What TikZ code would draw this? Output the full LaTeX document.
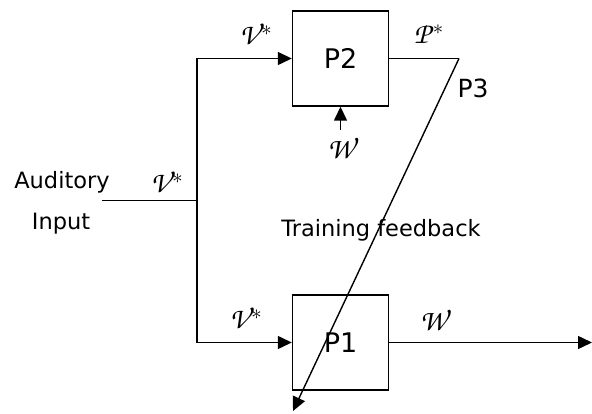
\documentclass[tikz,border=0pt]{standalone}
\usepackage{fontspec}
\setmainfont{DejaVu Sans}
\usetikzlibrary{arrows.meta}
\newcommand{\calligr}[1]{{\fontencoding{T1}\fontfamily{pzc}\selectfont #1}}
\newcommand{\strs}{\kern2.5pt$^{*}$}
\begin{document}
\begin{tikzpicture}[x=1pt,y=-1pt,
  line width=1.4pt,
  blockbox/.style={draw, minimum width=96pt, minimum height=95pt, inner sep=0pt, font=\fontsize{27}{30}\selectfont},
  arr/.style={-{Triangle[length=14pt,width=13pt]}},
  lab/.style={font=\fontsize{22.5}{26}\selectfont, inner sep=0pt},
  sym/.style={font=\fontsize{30}{34}\selectfont, inner sep=0pt}]
\useasboundingbox (0,0) rectangle (592,414);
\node[blockbox] (P2) at (340.5,58.5) {P2};
\node[blockbox] (P1) at (340.5,342.5) {P1};
\coordinate (in) at (102,200.5);
\coordinate (split) at (197,200.5);
\coordinate (c1) at (459,58.5);
\coordinate (fb) at (293,411);
\coordinate (out) at (592,342.5);
\coordinate (wsrc) at (340.5,130);
\draw (in) -- (split);
\draw[arr] (split) |- (P2.west);
\draw[arr] (split) |- (P1.west);
\draw (P2.east) -- (c1);
\draw[arr] (c1) -- (fb);
\draw[arr] (P1.east) -- (out);
\draw[arr] (wsrc) -- (P2.south);
\node[lab] (aud) at (62,182) {Auditory};
\node[lab] (inp) at (61,224) {Input};
\node[lab] (tf) at (381,230) {Training feedback};
\node[lab, font=\fontsize{25}{28}\selectfont] (p3) at (473,88) {P3};
\node[sym] (v1) at (256,34) {\calligr{V}\strs};
\node[sym] (ps) at (429,34) {\calligr{P}\strs};
\node[sym] (w1) at (340.5,148) {\calligr{W}};
\node[sym] (v0) at (167,182) {\calligr{V}\strs};
\node[sym] (v2) at (246,318) {\calligr{V}\strs};
\node[sym] (w2) at (433,320) {\calligr{W}};
\end{tikzpicture}
\end{document}
